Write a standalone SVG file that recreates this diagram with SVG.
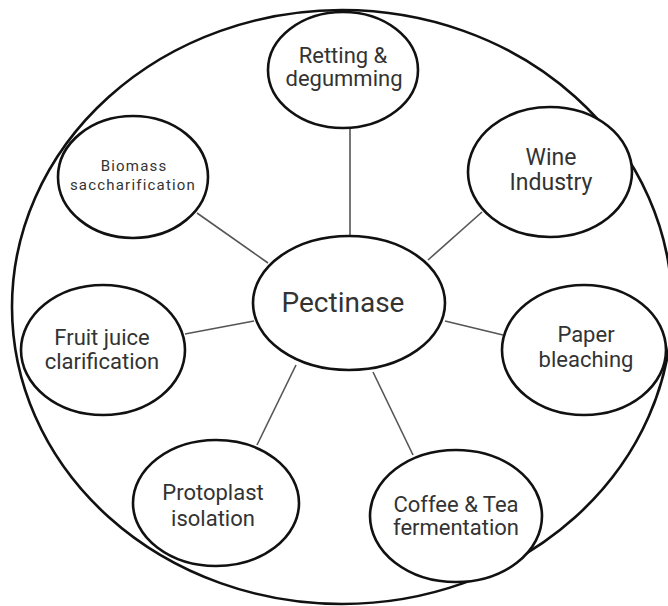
<svg xmlns="http://www.w3.org/2000/svg" width="668" height="606" viewBox="0 0 668 606">
<style>
.n{fill:#fff;stroke:#111;stroke-width:2.6}
.o{fill:none;stroke:#111;stroke-width:2.6}
.c{stroke:#555;stroke-width:1.6;fill:none}
text{font-family:Roboto,"Liberation Sans",sans-serif;fill:#333;text-anchor:middle}
.t{font-size:22px}
.s{font-size:15px;letter-spacing:1.2px}
</style>
<rect width="668" height="606" fill="#fff"/>
<ellipse class="o" cx="342" cy="307" rx="330" ry="297"/>
<g id="connectors">
<line class="c" x1="350" y1="128" x2="350" y2="237"/>
<line class="c" x1="197" y1="213" x2="268" y2="263"/>
<line class="c" x1="482" y1="212" x2="428" y2="260"/>
<line class="c" x1="185" y1="334" x2="254" y2="321"/>
<line class="c" x1="445" y1="321" x2="503" y2="335"/>
<line class="c" x1="296" y1="365" x2="257" y2="445"/>
<line class="c" x1="373" y1="372" x2="413" y2="455"/>
</g>
<g id="retting">
<ellipse class="n" cx="343" cy="70" rx="75" ry="58"/>
<text class="t" x="343" y="63">Retting &amp;</text>
<text class="t" x="344" y="86">degumming</text>
</g>
<g id="biomass">
<ellipse class="n" cx="133" cy="177" rx="75" ry="61"/>
<text class="s" x="134" y="171">Biomass</text>
<text class="s" x="133" y="190">saccharification</text>
</g>
<g id="wine">
<ellipse class="n" cx="550" cy="172" rx="82" ry="65"/>
<text x="551" y="165" font-size="23">Wine</text>
<text x="551" y="190" font-size="23">Industry</text>
</g>
<g id="pectinase">
<ellipse class="n" cx="349" cy="303" rx="96" ry="67"/>
<text x="343" y="312" font-size="28">Pectinase</text>
</g>
<g id="fruit">
<ellipse class="n" cx="103" cy="350" rx="82" ry="65"/>
<text class="t" x="102" y="345">Fruit juice</text>
<text class="t" x="102" y="369">clarification</text>
</g>
<g id="paper">
<ellipse class="n" cx="584" cy="350" rx="82" ry="65"/>
<text class="t" x="586" y="342">Paper</text>
<text class="t" x="586" y="367">bleaching</text>
</g>
<g id="protoplast">
<ellipse class="n" cx="216" cy="503" rx="83" ry="63"/>
<text class="t" x="213" y="500">Protoplast</text>
<text class="t" x="213" y="526">isolation</text>
</g>
<g id="coffee">
<ellipse class="n" cx="456" cy="516" rx="86" ry="66"/>
<text class="t" x="456" y="512">Coffee &amp; Tea</text>
<text class="t" x="456" y="535">fermentation</text>
</g>
</svg>
